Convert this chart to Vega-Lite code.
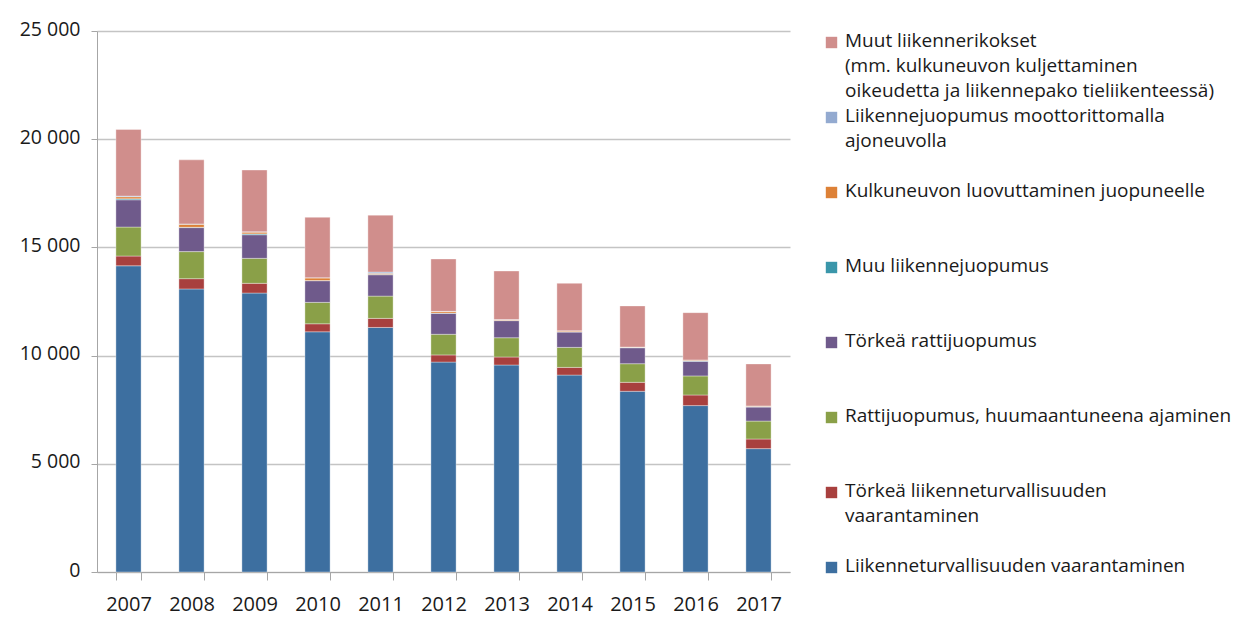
{
  "$schema": "https://vega.github.io/schema/vega-lite/v6.json",
  "width": 693,
  "height": 541,
  "autosize": {"type": "none"},
  "padding": {"left": 97, "top": 31, "right": 447, "bottom": 51},
  "background": "#ffffff",
  "config": {
    "view": {"stroke": null},
    "font": "Open Sans",
    "style": {"guide-label": {"lineHeight": 25, "dy": -11}}
  },
  "data": {
    "values": [
      {"vuosi": "2007", "rikos": "Liikenneturvallisuuden vaarantaminen", "maara": 14150},
      {"vuosi": "2007", "rikos": "Törkeä liikenneturvallisuuden vaarantaminen", "maara": 450},
      {"vuosi": "2007", "rikos": "Rattijuopumus, huumaantuneena ajaminen", "maara": 1340},
      {"vuosi": "2007", "rikos": "Törkeä rattijuopumus", "maara": 1260},
      {"vuosi": "2007", "rikos": "Muu liikennejuopumus", "maara": 50},
      {"vuosi": "2007", "rikos": "Kulkuneuvon luovuttaminen juopuneelle", "maara": 90},
      {"vuosi": "2007", "rikos": "Liikennejuopumus moottorittomalla ajoneuvolla", "maara": 30},
      {"vuosi": "2007", "rikos": "Muut liikennerikokset", "maara": 3080},
      {"vuosi": "2008", "rikos": "Liikenneturvallisuuden vaarantaminen", "maara": 13080},
      {"vuosi": "2008", "rikos": "Törkeä liikenneturvallisuuden vaarantaminen", "maara": 475},
      {"vuosi": "2008", "rikos": "Rattijuopumus, huumaantuneena ajaminen", "maara": 1250},
      {"vuosi": "2008", "rikos": "Törkeä rattijuopumus", "maara": 1110},
      {"vuosi": "2008", "rikos": "Muu liikennejuopumus", "maara": 15},
      {"vuosi": "2008", "rikos": "Kulkuneuvon luovuttaminen juopuneelle", "maara": 140},
      {"vuosi": "2008", "rikos": "Liikennejuopumus moottorittomalla ajoneuvolla", "maara": 15},
      {"vuosi": "2008", "rikos": "Muut liikennerikokset", "maara": 2960},
      {"vuosi": "2009", "rikos": "Liikenneturvallisuuden vaarantaminen", "maara": 12890},
      {"vuosi": "2009", "rikos": "Törkeä liikenneturvallisuuden vaarantaminen", "maara": 450},
      {"vuosi": "2009", "rikos": "Rattijuopumus, huumaantuneena ajaminen", "maara": 1155},
      {"vuosi": "2009", "rikos": "Törkeä rattijuopumus", "maara": 1090},
      {"vuosi": "2009", "rikos": "Muu liikennejuopumus", "maara": 40},
      {"vuosi": "2009", "rikos": "Kulkuneuvon luovuttaminen juopuneelle", "maara": 80},
      {"vuosi": "2009", "rikos": "Liikennejuopumus moottorittomalla ajoneuvolla", "maara": 20},
      {"vuosi": "2009", "rikos": "Muut liikennerikokset", "maara": 2850},
      {"vuosi": "2010", "rikos": "Liikenneturvallisuuden vaarantaminen", "maara": 11100},
      {"vuosi": "2010", "rikos": "Törkeä liikenneturvallisuuden vaarantaminen", "maara": 370},
      {"vuosi": "2010", "rikos": "Rattijuopumus, huumaantuneena ajaminen", "maara": 990},
      {"vuosi": "2010", "rikos": "Törkeä rattijuopumus", "maara": 1000},
      {"vuosi": "2010", "rikos": "Muu liikennejuopumus", "maara": 10},
      {"vuosi": "2010", "rikos": "Kulkuneuvon luovuttaminen juopuneelle", "maara": 120},
      {"vuosi": "2010", "rikos": "Liikennejuopumus moottorittomalla ajoneuvolla", "maara": 10},
      {"vuosi": "2010", "rikos": "Muut liikennerikokset", "maara": 2790},
      {"vuosi": "2011", "rikos": "Liikenneturvallisuuden vaarantaminen", "maara": 11300},
      {"vuosi": "2011", "rikos": "Törkeä liikenneturvallisuuden vaarantaminen", "maara": 420},
      {"vuosi": "2011", "rikos": "Rattijuopumus, huumaantuneena ajaminen", "maara": 1030},
      {"vuosi": "2011", "rikos": "Törkeä rattijuopumus", "maara": 985},
      {"vuosi": "2011", "rikos": "Muu liikennejuopumus", "maara": 20},
      {"vuosi": "2011", "rikos": "Kulkuneuvon luovuttaminen juopuneelle", "maara": 45},
      {"vuosi": "2011", "rikos": "Liikennejuopumus moottorittomalla ajoneuvolla", "maara": 60},
      {"vuosi": "2011", "rikos": "Muut liikennerikokset", "maara": 2630},
      {"vuosi": "2012", "rikos": "Liikenneturvallisuuden vaarantaminen", "maara": 9700},
      {"vuosi": "2012", "rikos": "Törkeä liikenneturvallisuuden vaarantaminen", "maara": 330},
      {"vuosi": "2012", "rikos": "Rattijuopumus, huumaantuneena ajaminen", "maara": 955},
      {"vuosi": "2012", "rikos": "Törkeä rattijuopumus", "maara": 970},
      {"vuosi": "2012", "rikos": "Muu liikennejuopumus", "maara": 10},
      {"vuosi": "2012", "rikos": "Kulkuneuvon luovuttaminen juopuneelle", "maara": 70},
      {"vuosi": "2012", "rikos": "Liikennejuopumus moottorittomalla ajoneuvolla", "maara": 10},
      {"vuosi": "2012", "rikos": "Muut liikennerikokset", "maara": 2420},
      {"vuosi": "2013", "rikos": "Liikenneturvallisuuden vaarantaminen", "maara": 9565},
      {"vuosi": "2013", "rikos": "Törkeä liikenneturvallisuuden vaarantaminen", "maara": 370},
      {"vuosi": "2013", "rikos": "Rattijuopumus, huumaantuneena ajaminen", "maara": 890},
      {"vuosi": "2013", "rikos": "Törkeä rattijuopumus", "maara": 790},
      {"vuosi": "2013", "rikos": "Muu liikennejuopumus", "maara": 10},
      {"vuosi": "2013", "rikos": "Kulkuneuvon luovuttaminen juopuneelle", "maara": 30},
      {"vuosi": "2013", "rikos": "Liikennejuopumus moottorittomalla ajoneuvolla", "maara": 10},
      {"vuosi": "2013", "rikos": "Muut liikennerikokset", "maara": 2245},
      {"vuosi": "2014", "rikos": "Liikenneturvallisuuden vaarantaminen", "maara": 9100},
      {"vuosi": "2014", "rikos": "Törkeä liikenneturvallisuuden vaarantaminen", "maara": 355},
      {"vuosi": "2014", "rikos": "Rattijuopumus, huumaantuneena ajaminen", "maara": 925},
      {"vuosi": "2014", "rikos": "Törkeä rattijuopumus", "maara": 710},
      {"vuosi": "2014", "rikos": "Muu liikennejuopumus", "maara": 10},
      {"vuosi": "2014", "rikos": "Kulkuneuvon luovuttaminen juopuneelle", "maara": 40},
      {"vuosi": "2014", "rikos": "Liikennejuopumus moottorittomalla ajoneuvolla", "maara": 10},
      {"vuosi": "2014", "rikos": "Muut liikennerikokset", "maara": 2190},
      {"vuosi": "2015", "rikos": "Liikenneturvallisuuden vaarantaminen", "maara": 8350},
      {"vuosi": "2015", "rikos": "Törkeä liikenneturvallisuuden vaarantaminen", "maara": 415},
      {"vuosi": "2015", "rikos": "Rattijuopumus, huumaantuneena ajaminen", "maara": 860},
      {"vuosi": "2015", "rikos": "Törkeä rattijuopumus", "maara": 740},
      {"vuosi": "2015", "rikos": "Muu liikennejuopumus", "maara": 5},
      {"vuosi": "2015", "rikos": "Kulkuneuvon luovuttaminen juopuneelle", "maara": 20},
      {"vuosi": "2015", "rikos": "Liikennejuopumus moottorittomalla ajoneuvolla", "maara": 5},
      {"vuosi": "2015", "rikos": "Muut liikennerikokset", "maara": 1900},
      {"vuosi": "2016", "rikos": "Liikenneturvallisuuden vaarantaminen", "maara": 7690},
      {"vuosi": "2016", "rikos": "Törkeä liikenneturvallisuuden vaarantaminen", "maara": 490},
      {"vuosi": "2016", "rikos": "Rattijuopumus, huumaantuneena ajaminen", "maara": 880},
      {"vuosi": "2016", "rikos": "Törkeä rattijuopumus", "maara": 680},
      {"vuosi": "2016", "rikos": "Muu liikennejuopumus", "maara": 10},
      {"vuosi": "2016", "rikos": "Kulkuneuvon luovuttaminen juopuneelle", "maara": 40},
      {"vuosi": "2016", "rikos": "Liikennejuopumus moottorittomalla ajoneuvolla", "maara": 10},
      {"vuosi": "2016", "rikos": "Muut liikennerikokset", "maara": 2185},
      {"vuosi": "2017", "rikos": "Liikenneturvallisuuden vaarantaminen", "maara": 5700},
      {"vuosi": "2017", "rikos": "Törkeä liikenneturvallisuuden vaarantaminen", "maara": 445},
      {"vuosi": "2017", "rikos": "Rattijuopumus, huumaantuneena ajaminen", "maara": 830},
      {"vuosi": "2017", "rikos": "Törkeä rattijuopumus", "maara": 650},
      {"vuosi": "2017", "rikos": "Muu liikennejuopumus", "maara": 10},
      {"vuosi": "2017", "rikos": "Kulkuneuvon luovuttaminen juopuneelle", "maara": 30},
      {"vuosi": "2017", "rikos": "Liikennejuopumus moottorittomalla ajoneuvolla", "maara": 10},
      {"vuosi": "2017", "rikos": "Muut liikennerikokset", "maara": 1940}
    ]
  },
  "transform": [
    {"calculate": "indexof(['Liikenneturvallisuuden vaarantaminen', 'Törkeä liikenneturvallisuuden vaarantaminen', 'Rattijuopumus, huumaantuneena ajaminen', 'Törkeä rattijuopumus', 'Muu liikennejuopumus', 'Kulkuneuvon luovuttaminen juopuneelle', 'Liikennejuopumus moottorittomalla ajoneuvolla', 'Muut liikennerikokset'], datum.rikos)", "as": "pino"}
  ],
  "mark": {"type": "bar", "stroke": "#ffffff", "strokeOpacity": 0.35, "strokeWidth": 1},
  "encoding": {
    "x": {
      "field": "vuosi",
      "type": "ordinal",
      "title": null,
      "scale": {"paddingInner": 0.6, "paddingOuter": 0.3},
      "axis": {
        "labelAngle": 0,
        "labelFontSize": 20,
        "labelColor": "#1a1a1a",
        "labelPadding": 25,
        "tickBand": "extent",
        "tickSize": 8,
        "tickColor": "#a6a6a6",
        "domainColor": "#a6a6a6",
        "grid": false
      }
    },
    "y": {
      "field": "maara",
      "type": "quantitative",
      "stack": "zero",
      "title": null,
      "scale": {"domain": [0, 25000], "nice": false},
      "axis": {
        "values": [0, 5000, 10000, 15000, 20000, 25000],
        "labelExpr": "replace(format(datum.value, ','), ',', ' ')",
        "labelFontSize": 19.5,
        "labelBaseline": "top",
        "labelColor": "#1a1a1a",
        "labelPadding": 11,
        "tickSize": 6,
        "tickColor": "#a6a6a6",
        "domainColor": "#a6a6a6",
        "gridColor": "#c4c4c4",
        "gridWidth": 1.5
      }
    },
    "order": {"field": "pino", "type": "quantitative", "sort": "ascending"},
    "color": {
      "field": "rikos",
      "type": "nominal",
      "sort": [
        "Liikenneturvallisuuden vaarantaminen",
        "Törkeä liikenneturvallisuuden vaarantaminen",
        "Rattijuopumus, huumaantuneena ajaminen",
        "Törkeä rattijuopumus",
        "Muu liikennejuopumus",
        "Kulkuneuvon luovuttaminen juopuneelle",
        "Liikennejuopumus moottorittomalla ajoneuvolla",
        "Muut liikennerikokset"
      ],
      "scale": {
        "range": ["#3D6FA0", "#A8403E", "#8AA048", "#6F5A8B", "#3A96AA", "#DD8137", "#93AAD0", "#D08E8C"]
      },
      "legend": {
        "title": null,
        "orient": "none",
        "legendX": 725,
        "legendY": 2,
        "values": [
          "Muut liikennerikokset",
          "Liikennejuopumus moottorittomalla ajoneuvolla",
          "Kulkuneuvon luovuttaminen juopuneelle",
          "Muu liikennejuopumus",
          "Törkeä rattijuopumus",
          "Rattijuopumus, huumaantuneena ajaminen",
          "Törkeä liikenneturvallisuuden vaarantaminen",
          "Liikenneturvallisuuden vaarantaminen"
        ],
        "labelExpr": "datum.label == 'Muut liikennerikokset' ? ['Muut liikennerikokset', '(mm. kulkuneuvon kuljettaminen', 'oikeudetta ja liikennepako tieliikenteessä)'] : datum.label == 'Liikennejuopumus moottorittomalla ajoneuvolla' ? ['Liikennejuopumus moottorittomalla', 'ajoneuvolla'] : datum.label == 'Törkeä liikenneturvallisuuden vaarantaminen' ? ['Törkeä liikenneturvallisuuden', 'vaarantaminen'] : datum.label",
        "labelFontSize": 19,
        "labelColor": "#1a1a1a",
        "labelLimit": 500,
        "labelBaseline": "top",
        "symbolType": "square",
        "symbolSize": 130,
        "symbolStrokeWidth": 0,
        "gridAlign": "all",
        "rowPadding": 5,
        "labelOffset": 4
      }
    }
  }
}
